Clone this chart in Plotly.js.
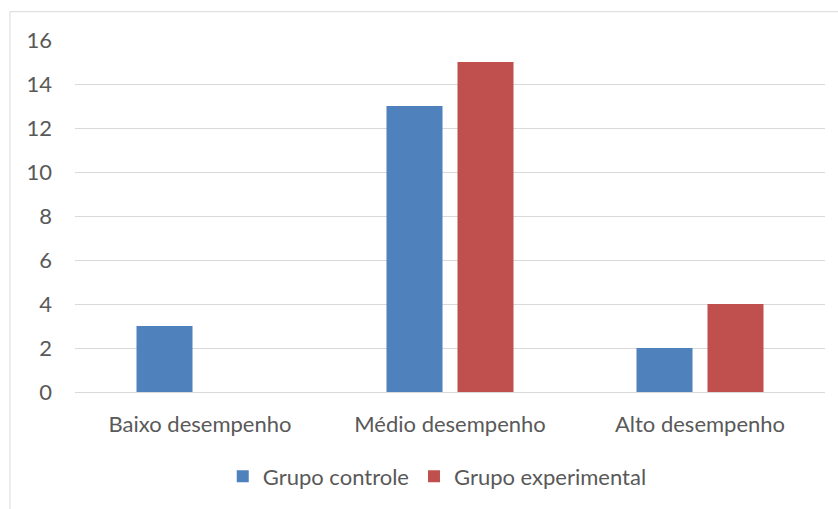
<!DOCTYPE html>
<html>
<head>
<meta charset="utf-8">
<script src="https://cdn.plot.ly/plotly-3.0.1.min.js"></script>
<style>
html, body { margin: 0; padding: 0; background: #fff; }
#chart { width: 838px; height: 509px; }
</style>
</head>
<body>
<div id="chart"></div>
<script>
const categories = ["Baixo desempenho", "Médio desempenho", "Alto desempenho"];
const grupoControle = [3, 13, 2];
const grupoExperimental = [0, 15, 4];
const yTicks = [0, 2, 4, 6, 8, 10, 12, 14, 16];

const fontFamily = "Lato, 'Open Sans', sans-serif";
const textColor = "#595959";

const traces = [
  { type: "bar", name: "Grupo controle", x: categories, y: grupoControle,
    marker: { color: "#4F81BD" }, hoverinfo: "y" },
  { type: "bar", name: "Grupo experimental", x: categories, y: grupoExperimental,
    marker: { color: "#C0504D" }, hoverinfo: "y" }
];

const layout = {
  width: 838, height: 509,
  margin: { l: 75, r: 13, t: 40, b: 115 },
  paper_bgcolor: "#ffffff", plot_bgcolor: "#ffffff",
  font: { family: fontFamily, color: textColor, size: 22 },
  barmode: "group",
  bargap: 0.432,
  bargroupgap: 0.211,
  showlegend: true,
  legend: {
    orientation: "h", x: 0.483, xanchor: "center", y: -0.24, yanchor: "middle",
    font: { family: fontFamily, color: textColor, size: 22 },
    itemwidth: 30
  },
  xaxis: {
    type: "category", showgrid: false, showline: false, zeroline: false,
    ticks: "", tickfont: { family: fontFamily, color: textColor, size: 22 },
    ticklabelstandoff: 17
  },
  yaxis: {
    range: [0, 16], tickvals: yTicks, showgrid: true, gridcolor: "#d9d9d9", gridwidth: 1,
    zeroline: true, zerolinecolor: "#d9d9d9", zerolinewidth: 1, showline: false,
    ticks: "", tickfont: { family: fontFamily, color: textColor, size: 22 },
    ticklabelstandoff: 22
  },
  shapes: [
    { type: "line", xref: "paper", yref: "paper", x0: -0.0867, x1: 1.05, y0: 1.0805, y1: 1.0805,
      line: { color: "#d9d9d9", width: 1 } },
    { type: "line", xref: "paper", yref: "paper", x0: -0.0867, x1: -0.0867, y0: 1.0805, y1: -0.5,
      line: { color: "#d9d9d9", width: 1 } }
  ]
};

Plotly.newPlot("chart", traces, layout, { displayModeBar: false, staticPlot: true });
</script>
</body>
</html>
